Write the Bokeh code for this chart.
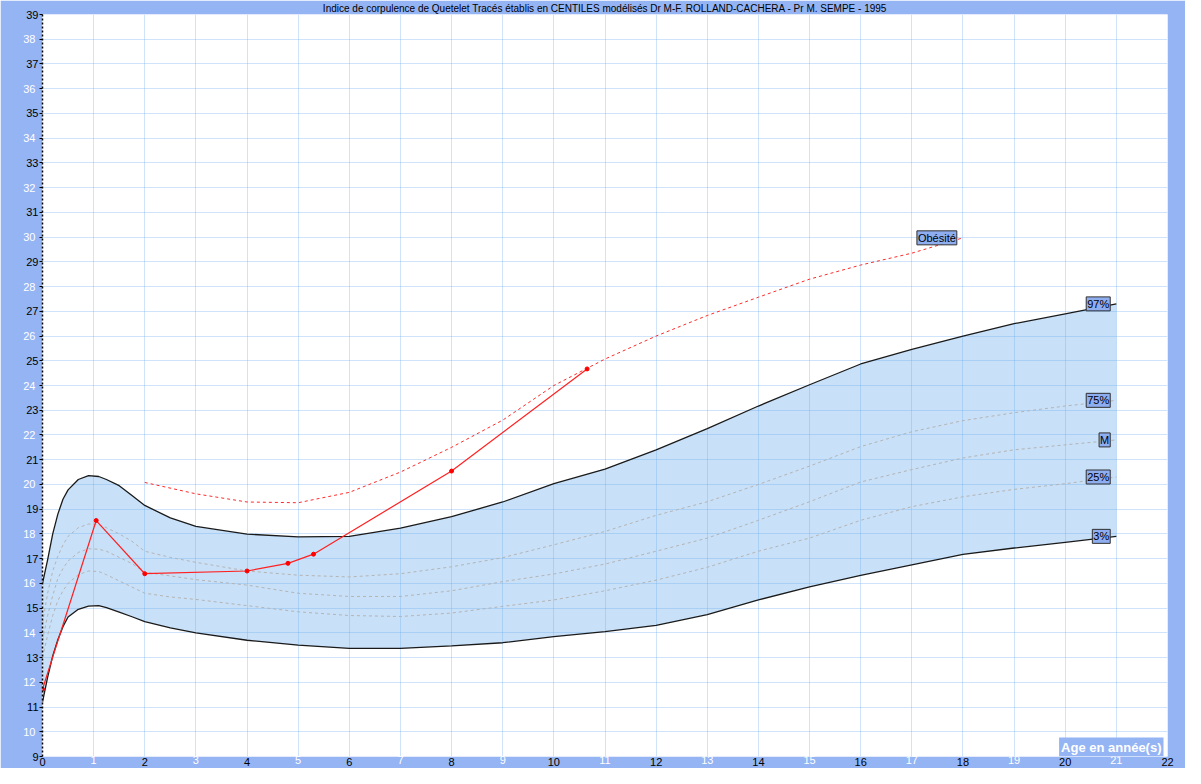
from bokeh.plotting import figure
from bokeh.models import Range1d, FixedTicker, Label, LinearAxis
from bokeh.embed import file_html
from bokeh.resources import INLINE

TITLE = ("Indice de corpulence de Quetelet Tracés établis en CENTILES modélisés "
         "Dr M-F. ROLLAND-CACHERA - Pr M. SEMPE - 1995")
X_LABEL = "Age en année(s)"

# centile curves (age in years -> BMI)
ages = [0, 0.1, 0.2, 0.3, 0.4, 0.5, 0.7, 0.9, 1.1, 1.25, 1.5, 1.75, 2, 2.5, 3,
        4, 5, 6, 7, 8, 9, 10, 11, 12, 13, 14, 15, 16, 17, 18, 19, 20, 21]
p97 = [16.0, 16.95, 18.0, 18.8, 19.4, 19.78, 20.2, 20.36, 20.32, 20.2, 19.95,
       19.55, 19.15, 18.65, 18.3, 17.99, 17.88, 17.9, 18.23, 18.7, 19.29, 20.03,
       20.62, 21.4, 22.26, 23.17, 24.03, 24.87, 25.46, 26.0, 26.5, 26.9, 27.3]
p75 = [14.4, 15.6, 16.5, 17.1, 17.55, 17.9, 18.25, 18.4, 18.38, 18.25, 18.0,
       17.7, 17.3, 17.05, 16.85, 16.5, 16.33, 16.26, 16.39, 16.67, 17.04, 17.56,
       18.1, 18.75, 19.3, 20.0, 20.74, 21.53, 22.13, 22.58, 22.9, 23.17, 23.4]
p50 = [13.7, 14.7, 15.5, 16.2, 16.6, 16.9, 17.25, 17.4, 17.38, 17.3, 17.05,
       16.8, 16.45, 16.3, 16.15, 15.93, 15.6, 15.47, 15.47, 15.7, 16.07, 16.38,
       16.78, 17.3, 17.83, 18.55, 19.3, 20.1, 20.6, 21.07, 21.4, 21.6, 21.8]
p25 = [13.0, 13.9, 14.7, 15.3, 15.7, 16.0, 16.35, 16.5, 16.48, 16.35, 16.1,
       15.85, 15.6, 15.45, 15.35, 15.1, 14.85, 14.7, 14.66, 14.8, 15.07, 15.33,
       15.7, 16.13, 16.65, 17.3, 17.83, 18.55, 19.1, 19.5, 19.8, 20.03, 20.3]
p3 = [11.2, 12.2, 13.07, 13.72, 14.25, 14.64, 14.95, 15.08, 15.1, 15.02,
      14.84, 14.65, 14.45, 14.2, 14.0, 13.7, 13.5, 13.37, 13.37, 13.47, 13.6,
      13.85, 14.05, 14.3, 14.74, 15.33, 15.86, 16.32, 16.75, 17.17, 17.43,
      17.66, 17.9]

obes_ages = [2, 3, 4, 5, 6, 7, 8, 9, 10, 11, 12, 13, 14, 15, 16, 17, 18]
obes_bmi = [20.08, 19.62, 19.29, 19.26, 19.68, 20.5, 21.5, 22.6, 24.0, 25.07,
            26.0, 26.83, 27.57, 28.3, 28.87, 29.35, 29.97]

pat_ages = [0, 1.05, 2.0, 4.0, 4.8, 5.3, 8.0, 10.65]
pat_bmi = [11.72, 18.54, 16.39, 16.5, 16.81, 17.18, 20.54, 24.67]

curve_labels = ["97%", "75%", "M", "25%", "3%"]
obes_label = "Obésité"

x_ticks = list(range(0, 23))
y_ticks = list(range(9, 40))

FRAME_BLUE = "#94b4f4"
BOX_BLUE = "#8eaef0"
FONT = "Liberation Sans"

p = figure(width=1185, height=768, x_range=Range1d(0, 22), y_range=Range1d(9, 39),
           output_backend="svg", toolbar_location=None, title=TITLE,
           x_axis_location=None, y_axis_location=None,
           min_border_left=42, min_border_right=18, min_border_top=0,
           min_border_bottom=0)
p.border_fill_color = FRAME_BLUE
p.background_fill_color = "white"
p.outline_line_color = None

p.title.text_font = FONT
p.title.text_font_size = "10px"
p.title.text_font_style = "normal"
p.title.text_color = "black"
p.title.align = "center"
p.title.standoff = 1

# grid every unit
p.xgrid.ticker = FixedTicker(ticks=x_ticks)
p.ygrid.ticker = FixedTicker(ticks=y_ticks)
for g in (p.xgrid, p.ygrid):
    g.grid_line_color = "#6aaaf0"
    g.grid_line_alpha = 0.32
    g.grid_line_width = 1


def style_axis(ax, color):
    ax.major_label_text_font = FONT
    ax.major_label_text_font_size = "11px"
    ax.major_label_text_color = color
    ax.minor_tick_line_color = None


def set_standoff(ax, v):
    try:
        ax.major_label_standoff = v
    except Exception:
        ax.major_label_standoff = 0


# inner y axis: ticks at every unit, black labels on odd values
y_in = LinearAxis(ticker=FixedTicker(ticks=y_ticks))
y_in.major_label_overrides = {t: "" for t in y_ticks if t % 2 == 0}
style_axis(y_in, "black")
y_in.axis_line_color = "black"
y_in.axis_line_dash = "2 2"
y_in.axis_line_width = 1.5
y_in.major_tick_line_color = "black"
y_in.major_tick_in = 0
y_in.major_tick_out = 3
y_in.major_label_standoff = 1
p.add_layout(y_in, "left")

# outer y axis: white labels on even values, pulled back over the inner one
y_out = LinearAxis(ticker=FixedTicker(ticks=[t for t in y_ticks if t % 2 == 0]))
style_axis(y_out, "white")
y_out.axis_line_color = None
y_out.major_tick_line_color = None
y_out.major_tick_in = 0
y_out.major_tick_out = 0
set_standoff(y_out, -12)
p.add_layout(y_out, "left")

# inner x axis: black labels on even values
x_in = LinearAxis(ticker=FixedTicker(ticks=x_ticks))
x_in.major_label_overrides = {t: "" for t in x_ticks if t % 2 == 1}
style_axis(x_in, "black")
x_in.axis_line_color = None
x_in.major_tick_line_color = None
x_in.major_tick_in = 0
x_in.major_tick_out = 0
x_in.major_label_standoff = 1
p.add_layout(x_in, "below")

# outer x axis: white labels on odd values
x_out = LinearAxis(ticker=FixedTicker(ticks=[t for t in x_ticks if t % 2 == 1]))
style_axis(x_out, "white")
x_out.axis_line_color = None
x_out.major_tick_line_color = None
x_out.major_tick_in = 0
x_out.major_tick_out = 0
set_standoff(x_out, -13)
p.add_layout(x_out, "below")

# band between 3% and 97%
band = p.varea(x=ages, y1=p3, y2=p97, fill_color="#c8e0f8", fill_alpha=1.0)
band.level = "image"

# centile lines
for ys in (p75, p50, p25):
    p.line(ages, ys, line_color="#b4b4b4", line_width=1, line_dash="3 3")
for ys in (p97, p3):
    p.line(ages, ys, line_color="#1a1a1a", line_width=1.3)

# obesity threshold
p.line(obes_ages, obes_bmi, line_color="#ff2a2a", line_width=1, line_dash="3 3")

# patient
p.line(pat_ages, pat_bmi, line_color="#ff2020", line_width=1.2)
p.scatter(pat_ages, pat_bmi, size=4, color="#ff0000")

# curve end labels
for name, ys in zip(curve_labels, (p97, p75, p50, p25, p3)):
    p.add_layout(Label(x=ages[-1] - 0.12, y=ys[-1], text=name, text_align="right",
                       text_baseline="middle", text_font=FONT, text_font_size="11px",
                       text_color="black", background_fill_color=BOX_BLUE,
                       border_line_color="#303030", border_line_width=1, padding=1))
p.add_layout(Label(x=obes_ages[-1] - 0.12, y=obes_bmi[-1], text=obes_label,
                   text_align="right", text_baseline="middle", text_font=FONT,
                   text_font_size="11px", text_color="black",
                   background_fill_color=BOX_BLUE, border_line_color="#303030",
                   border_line_width=1, padding=1))

# axis caption box
p.add_layout(Label(x=22, y=9, x_offset=-4, text=X_LABEL, text_align="right",
                   text_baseline="bottom", text_font=FONT, text_font_size="13px",
                   text_font_style="bold", text_color="white",
                   background_fill_color=FRAME_BLUE, padding=2))

open("out.html", "w").write(file_html(p, INLINE))
